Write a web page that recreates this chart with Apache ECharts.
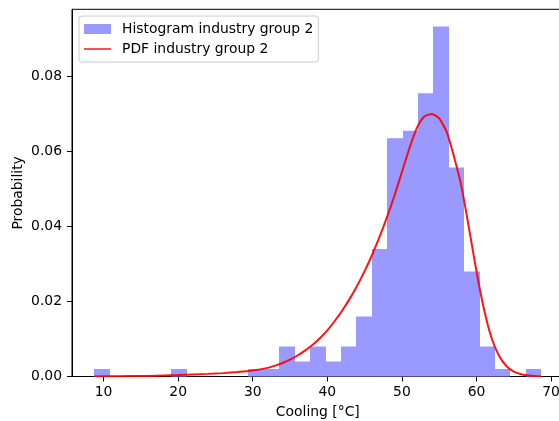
<!DOCTYPE html>
<html>
<head>
<meta charset="utf-8">
<script src="https://cdn.jsdelivr.net/npm/echarts@6/dist/echarts.min.js"></script>
<style>
  html, body { margin: 0; padding: 0; background: #fff; }
  #chart { width: 559px; height: 421px; }
</style>
</head>
<body>
<div id="chart"></div>
<script>
// Histogram bin edges (°C) and normalised heights (probability density)
const binEdges = [8.77, 10.84, 12.90, 14.97, 17.03, 19.10, 21.17, 23.23, 25.30, 27.36,
  29.43, 31.50, 33.56, 35.63, 37.69, 39.76, 41.83, 43.89, 45.96, 48.02,
  50.09, 52.16, 54.22, 56.29, 58.35, 60.42, 62.49, 64.55, 66.62, 68.68];
const binDensity = [0.002, 0, 0, 0, 0, 0.002, 0, 0, 0, 0,
  0.002, 0.002, 0.008, 0.004, 0.008, 0.004, 0.008, 0.016, 0.034, 0.0635,
  0.0655, 0.0755, 0.0933, 0.0557, 0.028, 0.008, 0.002, 0, 0.002];

// Fitted probability density curve
const pdfX = [8.77, 12, 16, 20, 24, 26, 28, 30, 32, 33, 34, 35, 36, 37, 38, 39, 40,
  41, 42, 43, 44, 45, 46, 47, 48, 49, 50, 51, 52, 53, 54, 55, 56, 57, 58, 59, 60,
  61, 62, 63, 64, 65, 66, 67, 68, 68.68];
const pdfY = [0.00003, 0.00007, 0.00016, 0.0004, 0.0007, 0.0009, 0.0012, 0.0016, 0.0023,
  0.0029, 0.0036, 0.0045, 0.0056, 0.0069, 0.0084, 0.0102, 0.0123,
  0.0148, 0.0176, 0.0207, 0.0242, 0.0281, 0.0324, 0.0372, 0.0425, 0.0482, 0.0545,
  0.0608, 0.0662, 0.0693, 0.0700, 0.0688, 0.0652, 0.0585, 0.0505, 0.0395, 0.0280,
  0.0180, 0.0104, 0.0056, 0.0028, 0.0013, 0.0006, 0.00025, 0.0001, 0.00003];

// Tick labels
const xTicks = [10, 20, 30, 40, 50, 60, 70];
const yTicks = [0, 0.02, 0.04, 0.06, 0.08];

const histName = 'Histogram industry group 2';
const pdfName = 'PDF industry group 2';
const font = 'DejaVu Sans';
const histColor = '#9999ff';
const pdfColor = 'rgba(255,0,0,0.92)';

const histData = binDensity.map((d, i) => [binEdges[i], binEdges[i + 1], d]);
const pdfData = pdfX.map((x, i) => [x, pdfY[i]]);

const chart = echarts.init(document.getElementById('chart'), null, { renderer: 'canvas' });

chart.setOption({
  animation: false,
  backgroundColor: '#ffffff',
  textStyle: { fontFamily: font },
  grid: {
    left: 72, top: 9.3, right: -4.6, bottom: 44.5,
    show: true, borderColor: '#000', borderWidth: 1,
    outerBoundsMode: 'none'
  },
  legend: {
    orient: 'vertical',
    left: 79, top: 16,
    padding: [6, 5, 6, 5],
    itemGap: 6,
    itemWidth: 27, itemHeight: 10,
    backgroundColor: 'rgba(255,255,255,0.8)',
    borderColor: '#cccccc', borderWidth: 1, borderRadius: 3,
    textStyle: { fontFamily: font, fontSize: 13.9, color: '#000', padding: [0, 0, 0, 6] },
    data: [
      { name: histName, icon: 'rect', itemStyle: { color: histColor } },
      // thin horizontal stroke centred in the icon box
      { name: pdfName, icon: 'path://M0,0L0.01,0ZM0,4.2L27,4.2L27,5.8L0,5.8ZM0,10L0.01,10Z',
        itemStyle: { color: pdfColor } }
    ]
  },
  xAxis: {
    type: 'value',
    min: 5.77, max: 71.68,
    name: 'Cooling [°C]',
    nameLocation: 'middle',
    nameGap: 28.5,
    nameMoveOverlap: false,
    nameTextStyle: { fontFamily: font, fontSize: 13.9, color: '#000' },
    splitLine: { show: false },
    axisLine: { show: true, lineStyle: { color: '#000', width: 1 } },
    axisTick: { show: true, inside: false, length: 5, lineStyle: { color: '#000', width: 1 }, customValues: xTicks },
    axisLabel: { fontFamily: font, fontSize: 13.9, color: '#000', margin: 9, customValues: xTicks,
      formatter: v => String(v) }
  },
  yAxis: {
    type: 'value',
    min: 0, max: 0.0979,
    name: 'Probability',
    nameLocation: 'middle',
    nameGap: 47,
    nameMoveOverlap: false,
    nameTextStyle: { fontFamily: font, fontSize: 13.9, color: '#000' },
    splitLine: { show: false },
    axisLine: { show: true, lineStyle: { color: '#000', width: 1 } },
    axisTick: { show: true, inside: false, length: 5, lineStyle: { color: '#000', width: 1 }, customValues: yTicks },
    axisLabel: { fontFamily: font, fontSize: 13.9, color: '#000', margin: 10, customValues: yTicks,
      formatter: v => v.toFixed(2) }
  },
  series: [
    {
      name: histName,
      type: 'custom',
      itemStyle: { color: histColor },
      encode: { x: [0, 1], y: 2 },
      data: histData,
      renderItem: function (params, api) {
        const h = api.value(2);
        if (!h) return null;
        const p0 = api.coord([api.value(0), 0]);
        const p1 = api.coord([api.value(1), h]);
        // snap the vertical edges to whole pixels so neighbouring bins meet cleanly
        const x0 = Math.round(p0[0]);
        const x1 = Math.round(p1[0]);
        return {
          type: 'rect',
          shape: { x: x0, y: p1[1], width: x1 - x0, height: p0[1] - p1[1] },
          style: { fill: histColor }
        };
      },
      z: 1
    },
    {
      name: pdfName,
      type: 'line',
      data: pdfData,
      symbol: 'none',
      smooth: 0.2,
      lineStyle: { color: pdfColor, width: 2 },
      itemStyle: { color: pdfColor },
      z: 3
    }
  ]
});
</script>
</body>
</html>
